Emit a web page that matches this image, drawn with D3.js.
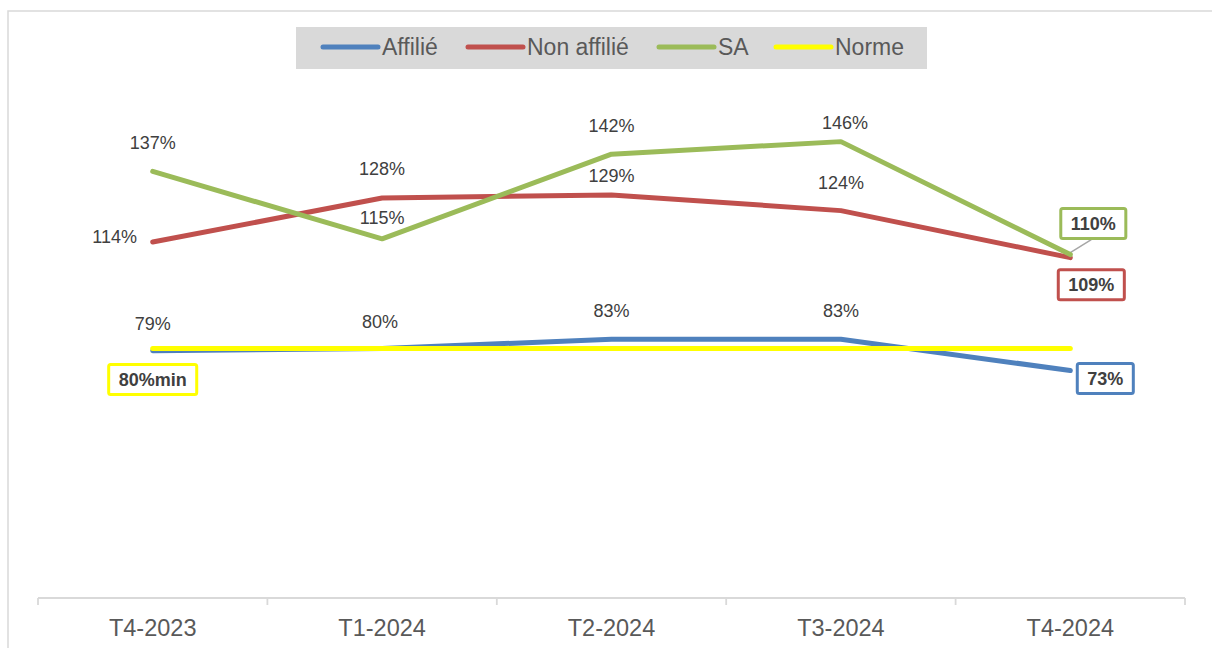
<!DOCTYPE html>
<html><head><meta charset="utf-8">
<script src="https://cdn.jsdelivr.net/npm/d3@7"></script>
<style>
html,body{margin:0;padding:0;background:#fff;}
svg{display:block;font-family:"Liberation Sans",Arial,sans-serif;}
</style></head>
<body>
<svg id="chart" width="1212" height="648"></svg>
<script>
const categories = ["T4-2023","T1-2024","T2-2024","T3-2024","T4-2024"];
const affilie    = [79.3, 80, 83, 83, 73];
const nonAffilie = [114, 128, 129, 124, 109];
const sa         = [136.5, 115, 142, 146, 110];
const norme      = [80, 80, 80, 80, 80];
const seriesNames = ["Affilié","Non affilié","SA","Norme"];
const colors = ["#4f81bd","#c0504d","#9bbb59","#ffff00"];

// label nudges (dx, dy) relative to each point; last point uses boxed label
const nudgeAffilie = [[0,-27],[-2,-27],[0,-28],[0,-28],[35,8]];
const nudgeNon     = [[-38,-5],[0,-29],[0,-19],[0,-28],[21,27]];
const nudgeSA      = [[0,-28],[0,-21],[0,-28],[4,-19],[23,-31]];

const svg = d3.select("#chart");

// outer frame
svg.append("rect").attr("x",8).attr("y",11).attr("width",1400).attr("height",800)
  .attr("fill","none").attr("stroke","#d9d9d9").attr("stroke-width",1.5);

const x = d3.scaleBand().domain(categories).range([38,1185]);
const y = d3.scaleLinear().domain([0,180]).range([599.5,35]);
const cx = c => x(c) + x.bandwidth()/2;

// axis
const axis = svg.append("g").attr("transform","translate(0,598)");
axis.append("line").attr("x1",38).attr("x2",1185).attr("y1",0).attr("y2",0)
  .attr("stroke","#d9d9d9").attr("stroke-width",1.8);
const bounds = categories.map(c=>x(c)).concat([x(categories[categories.length-1])+x.bandwidth()]);
axis.selectAll("line.tick").data(bounds).enter().append("line").attr("class","tick")
  .attr("x1",d=>d).attr("x2",d=>d).attr("y1",0).attr("y2",7)
  .attr("stroke","#d9d9d9").attr("stroke-width",1.8);
axis.selectAll("text").data(categories).enter().append("text")
  .attr("x",d=>cx(d)).attr("y",38).attr("text-anchor","middle")
  .attr("font-size",23.5).attr("fill","#595959").text(d=>d);

// lines
const line = d3.line().x((d,i)=>cx(categories[i])).y(d=>y(d));
const allSeries = [affilie, nonAffilie, sa, norme];
allSeries.forEach((s,k)=>{
  svg.append("path").datum(s).attr("d",line)
    .attr("fill","none").attr("stroke",colors[k]).attr("stroke-width",5)
    .attr("stroke-linecap","round").attr("stroke-linejoin","round");
});

const fmt = v => Math.round(v) + "%";

function plainLabels(vals, nudges){
  vals.forEach((v,i)=>{
    if(i===vals.length-1) return;
    svg.append("text").attr("x",cx(categories[i])+nudges[i][0]).attr("y",y(v)+nudges[i][1])
      .attr("text-anchor","middle").attr("dominant-baseline","central")
      .attr("font-size",18).attr("fill","#404040").text(fmt(v));
  });
}
plainLabels(affilie, nudgeAffilie);
plainLabels(nonAffilie, nudgeNon);
plainLabels(sa, nudgeSA);

function boxLabel(px, py, text, color, leader){
  const g = svg.append("g");
  const t = g.append("text").attr("x",px).attr("y",py).attr("text-anchor","middle")
    .attr("dominant-baseline","central").attr("font-size",18).attr("font-weight","bold")
    .attr("fill","#404040").text(text);
  const bb = t.node().getBBox();
  const w = bb.width + 20, h = 30;
  g.insert("rect","text").attr("x",px-w/2).attr("y",py-h/2).attr("width",w).attr("height",h)
    .attr("rx",2).attr("fill","#fff").attr("stroke",color).attr("stroke-width",3);
  if(leader){
    svg.insert("line","g").attr("x1",px-2).attr("y1",py+h/2+1).attr("x2",leader[0]).attr("y2",leader[1])
      .attr("stroke","#a6a6a6").attr("stroke-width",1.5);
  }
}
const last = categories.length-1;
const lx = cx(categories[last]);
boxLabel(lx+nudgeSA[last][0], y(sa[last])+nudgeSA[last][1], fmt(sa[last]), colors[2], [lx, y(sa[last])-2]);
boxLabel(lx+nudgeNon[last][0], y(nonAffilie[last])+nudgeNon[last][1], fmt(nonAffilie[last]), colors[1]);
boxLabel(lx+nudgeAffilie[last][0], y(affilie[last])+nudgeAffilie[last][1], fmt(affilie[last]), colors[0]);
boxLabel(cx(categories[0]), y(norme[0])+31, fmt(norme[0])+"min", colors[3]);

// legend
const leg = svg.append("g");
leg.append("rect").attr("x",296).attr("y",27).attr("width",631).attr("height",42).attr("fill","#d9d9d9");
const legX = [323, 468, 659, 776];
seriesNames.forEach((n,i)=>{
  leg.append("line").attr("x1",legX[i]).attr("x2",legX[i]+55).attr("y1",47).attr("y2",47)
    .attr("stroke",colors[i]).attr("stroke-width",5).attr("stroke-linecap","round");
  leg.append("text").attr("x",legX[i]+59).attr("y",47).attr("dominant-baseline","central")
    .attr("font-size",23).attr("fill","#595959").text(n);
});
</script>
</body></html>
